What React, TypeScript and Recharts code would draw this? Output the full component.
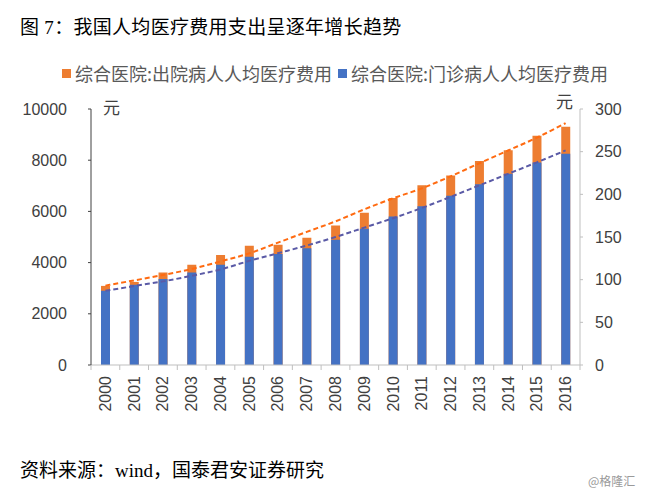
import React from "react";
import {
  ComposedChart,
  Bar,
  Line,
  XAxis,
  YAxis,
} from "recharts";

// ── Data ──────────────────────────────────────────────────

const years = [
  "2000", "2001", "2002", "2003", "2004", "2005", "2006", "2007", "2008",
  "2009", "2010", "2011", "2012", "2013", "2014", "2015", "2016",
];

// 出院病人人均医疗费用 (left axis, 元)
const inpatient = [
  3090, 3245, 3610, 3915, 4300, 4660, 4695, 4975, 5450,
  5950, 6525, 7020, 7400, 7965, 8385, 8955, 9310,
];

// 门诊病人人均医疗费用 (right axis, 元)
const outpatient = [
  87, 94, 100.8, 108.5, 117.5, 127, 130, 136.7, 146.8,
  159.7, 174, 186, 198.4, 211.7, 224, 237.4, 247.6,
];

// dashed trend lines
const inpatientTrend = [
  3100, 3305, 3515, 3750, 4045, 4360, 4780, 5200, 5610,
  6080, 6510, 6900, 7370, 7880, 8380, 8880, 9450,
];

const outpatientTrend = [
  87, 92.5, 98, 104.5, 112, 122, 131, 140, 150,
  161, 172, 184, 197, 210.5, 224, 237.5, 251.5,
];

const leftTicks = [0, 2000, 4000, 6000, 8000, 10000];
const rightTicks = [0, 50, 100, 150, 200, 250, 300];

const SERIES_IN = "综合医院:出院病人人均医疗费用";
const SERIES_OUT = "综合医院:门诊病人人均医疗费用";

const chartData = years.map((year, i) => ({
  year,
  inpatient: inpatient[i],
  outpatient: outpatient[i],
  inTrend: inpatientTrend[i],
  outTrend: outpatientTrend[i],
}));

// ── Layout ────────────────────────────────────────────────

const W = 649;
const H = 494;
const LEFT_W = 91;
const RIGHT_W = 69;
const BAND = (W - LEFT_W - RIGHT_W) / years.length;

const COLORS = {
  orange: "#ED7D31",
  blue: "#4472C4",
  orangeTrend: "#FF6A10",
  blueTrend: "#5A5AA6",
  text: "#404040",
  axisDark: "#404040",
  axisLight: "#BFBFBF",
};

const tickFont = { fontSize: 16, fill: COLORS.text, fontFamily: "Liberation Sans, Arial, sans-serif" };
const cjk = '"Noto Sans CJK SC", sans-serif';
const serifCjk = '"Liberation Serif", "Noto Sans CJK SC", serif';

// ── Sub-components ────────────────────────────────────────

const YearTick = (props: any) => {
  const { x, y, payload, index } = props;
  const ty = y + 11;
  return (
    <g>
      <line x1={x - BAND / 2} y1={y} x2={x - BAND / 2} y2={y + 5} stroke={COLORS.axisLight} />
      {index === years.length - 1 && (
        <line x1={x + BAND / 2} y1={y} x2={x + BAND / 2} y2={y + 5} stroke={COLORS.axisLight} />
      )}
      <text
        x={x}
        y={ty}
        transform={`rotate(-90, ${x}, ${ty})`}
        textAnchor="end"
        dominantBaseline="central"
        {...tickFont}
      >
        {payload.value}
      </text>
    </g>
  );
};

const LegendRow = () => {
  const items = [
    { label: SERIES_IN, color: COLORS.orange },
    { label: SERIES_OUT, color: COLORS.blue },
  ];
  return (
    <div
      style={{
        position: "absolute",
        left: 62,
        top: 60,
        display: "flex",
        fontFamily: cjk,
        fontSize: 18,
        color: "#595959",
        whiteSpace: "nowrap",
      }}
    >
      {items.map((it) => (
        <div key={it.label} style={{ display: "flex", alignItems: "center", marginRight: 6 }}>
          <span style={{ width: 9, height: 9, background: it.color, marginRight: 4, display: "inline-block" }} />
          <span>{it.label}</span>
        </div>
      ))}
    </div>
  );
};

// ── Component ─────────────────────────────────────────────

export default function App() {
  return (
    <div style={{ position: "absolute", left: 0, top: 0, width: W, height: H, background: "#fff" }}>
      <div
        style={{
          position: "absolute",
          left: 20,
          top: 12,
          fontFamily: serifCjk,
          fontSize: 19,
          letterSpacing: 0.3,
          color: "#000",
          whiteSpace: "nowrap",
        }}
      >
        图 7：我国人均医疗费用支出呈逐年增长趋势
      </div>

      <LegendRow />

      <div style={{ position: "absolute", left: 0, top: 0 }}>
        <ComposedChart
          width={W}
          height={H}
          data={chartData}
          barSize={9}
          barGap={-9}
          margin={{ top: 109, right: 0, bottom: 79, left: 0 }}
        >
          <XAxis
            dataKey="year"
            height={50}
            stroke={COLORS.axisLight}
            tickLine={false}
            tickSize={0}
            tickMargin={0}
            interval={0}
            tick={(p: any) => <YearTick {...p} />}
          />
          <YAxis
            yAxisId="left"
            width={LEFT_W}
            domain={[0, 10000]}
            ticks={leftTicks}
            stroke={COLORS.axisDark}
            tickSize={3}
            tickMargin={21}
            tick={tickFont}
          />
          <YAxis
            yAxisId="right"
            orientation="right"
            width={RIGHT_W}
            domain={[0, 300]}
            ticks={rightTicks}
            stroke={COLORS.axisLight}
            tickSize={3}
            tickMargin={12}
            tick={{ ...tickFont, textAnchor: "start" }}
          />
          <Bar
            yAxisId="left"
            dataKey="inpatient"
            name={SERIES_IN}
            fill={COLORS.orange}
            isAnimationActive={false}
          />
          <Bar
            yAxisId="right"
            dataKey="outpatient"
            name={SERIES_OUT}
            fill={COLORS.blue}
            isAnimationActive={false}
          />
          <Line
            yAxisId="left"
            dataKey="inTrend"
            type="monotone"
            stroke={COLORS.orangeTrend}
            strokeWidth={2}
            strokeDasharray="5 3"
            dot={false}
            isAnimationActive={false}
          />
          <Line
            yAxisId="right"
            dataKey="outTrend"
            type="monotone"
            stroke={COLORS.blueTrend}
            strokeWidth={2}
            strokeDasharray="5 3"
            dot={false}
            isAnimationActive={false}
          />
        </ComposedChart>
      </div>

      <span style={{ position: "absolute", left: 103, top: 94, fontFamily: cjk, fontSize: 17, color: COLORS.text }}>
        元
      </span>
      <span style={{ position: "absolute", left: 556, top: 88, fontFamily: cjk, fontSize: 17, color: COLORS.text }}>
        元
      </span>

      <div
        style={{
          position: "absolute",
          left: 20,
          top: 455,
          fontFamily: serifCjk,
          fontSize: 19,
          color: "#000",
          whiteSpace: "nowrap",
        }}
      >
        资料来源：wind，国泰君安证券研究
      </div>
      <div
        style={{
          position: "absolute",
          left: 588,
          top: 472,
          fontFamily: cjk,
          fontSize: 12,
          color: "#9a9a9a",
          whiteSpace: "nowrap",
        }}
      >
        @格隆汇
      </div>
    </div>
  );
}
